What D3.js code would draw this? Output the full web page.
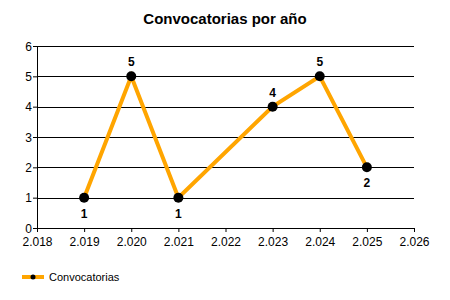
<!DOCTYPE html>
<html>
<head>
<meta charset="utf-8">
<script src="https://cdn.jsdelivr.net/npm/d3@7"></script>
<style>
  body { margin: 0; background: #fff; }
  text { font-family: "Liberation Sans", Arial, sans-serif; }
</style>
</head>
<body>
<div id="chart"></div>
<script>
// data
var years = [2019, 2020, 2021, 2023, 2024, 2025];
var counts = [1, 5, 1, 4, 5, 2];
var labelPos = ["below", "above", "below", "above", "above", "below"];
var xTicks = [2018, 2019, 2020, 2021, 2022, 2023, 2024, 2025, 2026];
var yTicks = [0, 1, 2, 3, 4, 5, 6];
var seriesName = "Convocatorias";

var data = years.map(function (y, i) { return { year: y, value: counts[i], pos: labelPos[i] }; });

var margin = { top: 46, right: 36, bottom: 72, left: 37 },
    width = 450 - margin.left - margin.right,
    height = 300 - margin.top - margin.bottom;

var root = d3.select("#chart").append("svg")
    .attr("width", 450).attr("height", 300);

root.append("text")
    .attr("x", 225).attr("y", 24)
    .attr("text-anchor", "middle")
    .style("font-size", "15px").style("font-weight", "bold")
    .text("Convocatorias por año");

var svg = root.append("g")
    .attr("transform", "translate(" + margin.left + "," + margin.top + ")");

var x = d3.scaleLinear().domain([2018, 2026]).range([0, width]);
var y = d3.scaleLinear().domain([0, 6]).range([height, 0]);

// spanish thousands separator: 2018 -> 2.018
var fmt = function (d) { return (d / 1000).toFixed(3); };

// gridlines
svg.append("g")
    .selectAll("line")
    .data(yTicks)
    .enter().append("line")
    .attr("x1", 0).attr("x2", width)
    .attr("y1", function (d) { return Math.round(y(d)) + 0.5; })
    .attr("y2", function (d) { return Math.round(y(d)) + 0.5; })
    .attr("stroke", "#000").attr("stroke-width", 1);

var xAxis = svg.append("g")
    .attr("transform", "translate(0," + height + ")")
    .call(d3.axisBottom(x).tickValues(xTicks).tickFormat(fmt).tickSize(4).tickSizeOuter(0));
var yAxis = svg.append("g")
    .call(d3.axisLeft(y).tickValues(yTicks).tickFormat(d3.format("d")).tickSize(4).tickSizeOuter(0));

[xAxis, yAxis].forEach(function (a) {
    a.select(".domain").attr("stroke", "#000");
    a.selectAll(".tick line").attr("stroke", "#000");
    a.selectAll("text").style("font-size", "12px")
        .style("font-family", "'Liberation Sans', Arial, sans-serif").attr("fill", "#000");
});
xAxis.selectAll("text").attr("dy", "0.9em");
yAxis.selectAll("text").attr("x", -5).attr("dy", "0.35em");

// line
svg.append("path")
    .datum(data)
    .attr("fill", "none")
    .attr("stroke", "#FFA500")
    .attr("stroke-width", 4)
    .attr("d", d3.line()
        .x(function (d) { return x(d.year); })
        .y(function (d) { return y(d.value); }));

svg.selectAll("circle.pt")
    .data(data)
    .enter().append("circle")
    .attr("class", "pt")
    .attr("cx", function (d) { return x(d.year); })
    .attr("cy", function (d) { return y(d.value); })
    .attr("r", 5)
    .attr("fill", "#000");

svg.selectAll("text.lbl")
    .data(data)
    .enter().append("text")
    .attr("class", "lbl")
    .attr("x", function (d) { return x(d.year); })
    .attr("y", function (d) { return y(d.value) + (d.pos === "above" ? -10 : 20); })
    .attr("text-anchor", "middle")
    .style("font-size", "12px").style("font-weight", "bold")
    .attr("fill", "#000")
    .text(function (d) { return d.value; });

// legend
var lg = root.append("g").attr("transform", "translate(22,277)");
lg.append("line").attr("x1", 0).attr("x2", 22).attr("y1", 0).attr("y2", 0)
    .attr("stroke", "#FFA500").attr("stroke-width", 4);
lg.append("circle").attr("cx", 11).attr("cy", 0).attr("r", 2.5).attr("fill", "#000");
lg.append("text").attr("x", 27).attr("y", 0).attr("dy", "0.35em")
    .style("font-size", "11px").text(seriesName);
</script>
</body>
</html>
